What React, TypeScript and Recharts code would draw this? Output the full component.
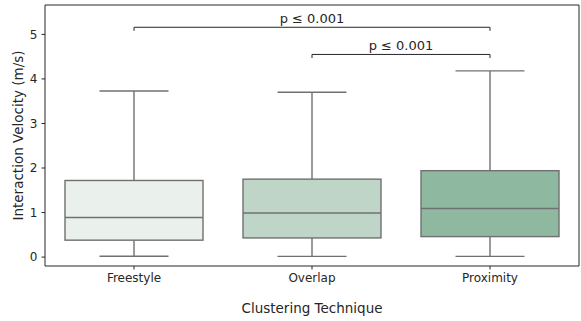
import { ComposedChart, Bar, XAxis, YAxis, ReferenceLine } from 'recharts';

const CATEGORIES = ['Freestyle', 'Overlap', 'Proximity'];
const WHISKER_LOW = [0.02, 0.015, 0.015];
const Q1 = [0.38, 0.43, 0.46];
const MEDIAN = [0.89, 0.99, 1.09];
const Q3 = [1.72, 1.75, 1.94];
const WHISKER_HIGH = [3.73, 3.7, 4.18];
const BOX_COLORS = ['#eaf0ec', '#bfd5c8', '#8fb8a0'];
const Y_TICKS = [0, 1, 2, 3, 4, 5];

// significance brackets: [from, to, height, tick drop]
const BRACKETS: [string, string, number, number][] = [
  ['Freestyle', 'Proximity', 5.16, 0.08],
  ['Overlap', 'Proximity', 4.55, 0.08],
];
const BRACKET_LABEL = 'p ≤ 0.001';

const FONT = '"DejaVu Sans", sans-serif';
const LINE = '#707070';
const INK = '#262626';

type BoxRow = {
  name: string;
  min: number;
  q1: number;
  median: number;
  q3: number;
  max: number;
  color: string;
};

const data: BoxRow[] = CATEGORIES.map((name, i) => ({
  name,
  min: WHISKER_LOW[i],
  q1: Q1[i],
  median: MEDIAN[i],
  q3: Q3[i],
  max: WHISKER_HIGH[i],
  color: BOX_COLORS[i],
}));

const BoxShape = (props: any) => {
  const { x, y, width, height, payload } = props;
  if (!payload) return null;
  const top = Math.min(y, y + height);
  const h = Math.abs(height);
  const { min, max } = payload;
  // map a value to pixels inside the [min, max] range the bar spans
  const py = (v: number) => top + ((max - v) / (max - min)) * h;
  const cx = x + width / 2;
  const capHalf = width / 4;
  return (
    <g>
      <line x1={cx} x2={cx} y1={py(max)} y2={py(payload.q3)} stroke={LINE} strokeWidth={1.4} />
      <line x1={cx} x2={cx} y1={py(payload.q1)} y2={py(min)} stroke={LINE} strokeWidth={1.4} />
      <line x1={cx - capHalf} x2={cx + capHalf} y1={py(max)} y2={py(max)} stroke={LINE} strokeWidth={1.4} />
      <line x1={cx - capHalf} x2={cx + capHalf} y1={py(min)} y2={py(min)} stroke={LINE} strokeWidth={1.4} />
      <rect
        x={x}
        y={py(payload.q3)}
        width={width}
        height={py(payload.q1) - py(payload.q3)}
        fill={payload.color}
        stroke={LINE}
        strokeWidth={1.4}
      />
      <line x1={x} x2={x + width} y1={py(payload.median)} y2={py(payload.median)} stroke={LINE} strokeWidth={1.4} />
    </g>
  );
};

export default function App() {
  return (
    <div style={{ position: 'absolute', left: 0, top: 0 }}>
      <ComposedChart
        width={581}
        height={321}
        data={data}
        margin={{ top: 4, right: 1, bottom: 5, left: 0 }}
      >
        <XAxis
          dataKey="name"
          type="category"
          stroke={INK}
          tickSize={3.5}
          tickMargin={4}
          height={50}
          tick={{ fill: INK, fontSize: 12, fontFamily: FONT }}
          label={{
            value: 'Clustering Technique',
            position: 'insideBottom',
            offset: 3,
            fill: INK,
            fontSize: 13.5,
            fontFamily: FONT,
          }}
        />
        <XAxis xAxisId="top" dataKey="name" orientation="top" height={1} tick={false} tickLine={false} stroke={INK} />
        <YAxis
          type="number"
          domain={[-0.2, 5.66]}
          ticks={Y_TICKS}
          allowDataOverflow
          width={45}
          stroke={INK}
          tickSize={3.5}
          tickMargin={4}
          tick={{ fill: INK, fontSize: 12, fontFamily: FONT }}
          label={{
            value: 'Interaction Velocity (m/s)',
            angle: -90,
            position: 'insideLeft',
            offset: 18,
            fill: INK,
            fontSize: 13.5,
            fontFamily: FONT,
            style: { textAnchor: 'middle' },
          }}
        />
        <YAxis yAxisId="right" orientation="right" width={1} tick={false} tickLine={false} stroke={INK} domain={[-0.2, 5.66]} />
        <Bar
          dataKey={(d: BoxRow) => [d.min, d.max]}
          barSize={138}
          shape={<BoxShape />}
          isAnimationActive={false}
        />
        {BRACKETS.map(([from, to, h, drop], i) => (
          <ReferenceLine
            key={`b${i}`}
            segment={[{ x: from, y: h }, { x: to, y: h }]}
            stroke={INK}
            strokeWidth={1}
            ifOverflow="visible"
            label={{
              value: BRACKET_LABEL,
              position: 'top',
              offset: 4,
              fill: INK,
              fontSize: 13,
              fontFamily: FONT,
            }}
          />
        ))}
        {BRACKETS.flatMap(([from, to, h, drop], i) =>
          [from, to].map((c) => (
            <ReferenceLine
              key={`t${i}${c}`}
              segment={[{ x: c, y: h }, { x: c, y: h - drop }]}
              stroke={INK}
              strokeWidth={1}
              ifOverflow="visible"
            />
          ))
        )}
      </ComposedChart>
    </div>
  );
}
